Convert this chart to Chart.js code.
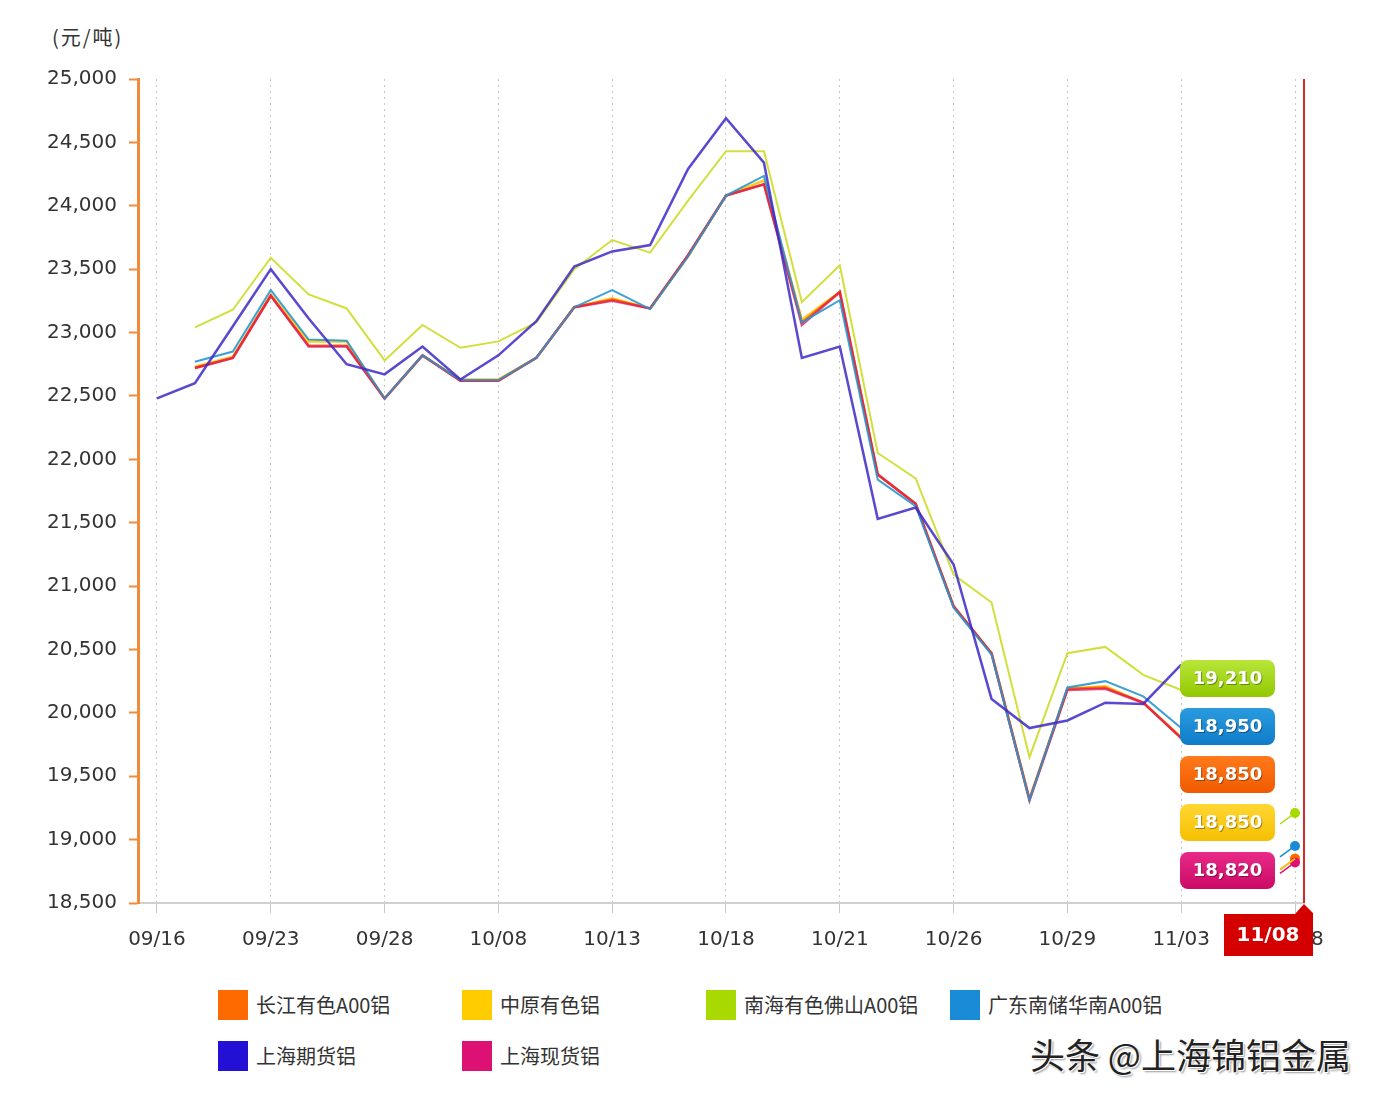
<!DOCTYPE html>
<html>
<head>
<meta charset="utf-8">
<script src="https://cdn.jsdelivr.net/npm/chart.js@4"></script>
<style>
  body { margin: 0; background: #fff; width: 1384px; height: 1102px; position: relative; overflow: hidden; font-family: "Noto Sans CJK SC", "DejaVu Sans", sans-serif; }
  #wrap { position: absolute; left: 0; top: 0; width: 1384px; height: 970px; }
  #unit { position: absolute; left: 52px; top: 22px; font-size: 20px; letter-spacing: 2px; color: #333; }
  .lg { position: absolute; font-size: 20px; color: #333; line-height: 30px; }
  .lg span { display: inline-block; width: 30px; height: 30px; vertical-align: top; margin-right: 8px; }
  #mark { position: absolute; left: 1030px; top: 1028px; font-size: 35px; color: #222; text-shadow: 1px 1px 0 #fff, -1px -1px 0 #fff, 2px 2px 2px #999; }
</style>
</head>
<body>
<div id="unit">(元/吨)</div>
<div id="wrap"><canvas id="grafico" width="1384" height="970"></canvas></div>
<div id="leyenda"></div>
<div id="mark">头条 @上海锦铝金属</div>
<script>
// Datos
const tickLabels = ["09/16", "09/23", "09/28", "10/08", "10/13", "10/18", "10/21", "10/26", "10/29", "11/03", "11/08"];
const tickEvery = 3;

const changjiang = [null, 22720, 22800, 23290, 22895, 22895, 22480, 22820, 22620, 22620, 22800, 23200, 23260, 23190, 23610, 24080, 24170, 23080, 23320, 21880, 21650, 20840, 20470, 19320, 20190, 20200, 20080, 19800, null, null, 18850];
const zhongyuan = [null, 22730, 22810, 23300, 22930, 22930, 22480, 22820, 22630, 22630, 22800, 23200, 23270, 23190, 23600, 24080, 24200, 23100, 23320, 21880, 21650, 20840, 20470, 19320, 20190, 20210, 20080, 19810, null, null, 18850];
const nanhai = [null, 23040, 23180, 23590, 23300, 23190, 22780, 23060, 22880, 22930, 23080, 23500, 23730, 23630, 24040, 24430, 24430, 23240, 23530, 22050, 21850, 21090, 20870, 19650, 20470, 20520, 20300, 20180, null, null, 19210];
const guangdong = [null, 22770, 22850, 23335, 22945, 22935, 22480, 22820, 22625, 22625, 22800, 23200, 23335, 23185, 23600, 24080, 24235, 23080, 23255, 21840, 21630, 20830, 20460, 19310, 20200, 20250, 20130, 19880, null, null, 18950];
const shQihuo = [22480, 22600, 23050, 23500, 23110, 22750, 22670, 22890, 22630, 22820, 23090, 23520, 23640, 23690, 24290, 24690, 24340, 22800, 22890, 21530, 21620, 21170, 20110, 19880, 19940, 20080, 20070, 20380, null, null, null];
const shXianhuo = [null, 22720, 22800, 23290, 22890, 22890, 22480, 22820, 22620, 22620, 22800, 23200, 23250, 23190, 23610, 24080, 24170, 23060, 23320, 21880, 21650, 20840, 20470, 19310, 20180, 20190, 20080, 19800, null, null, 18820];

const series = [
  { nombre: "上海期货铝", datos: shQihuo, color: "#2410d4", linea: "rgba(60,40,200,0.85)", ancho: 2.5 },
  { nombre: "南海有色佛山A00铝", datos: nanhai, color: "#a8d900", linea: "rgba(205,220,40,0.9)", ancho: 2 },
  { nombre: "广东南储华南A00铝", datos: guangdong, color: "#1a8bd6", linea: "rgba(40,150,210,0.9)", ancho: 2 },
  { nombre: "上海现货铝", datos: shXianhuo, color: "#dd1173", linea: "rgba(220,20,90,0.75)", ancho: 2.5 },
  { nombre: "长江有色A00铝", datos: changjiang, color: "#ff6a00", linea: "rgba(255,90,0,0.85)", ancho: 2.5 },
  { nombre: "中原有色铝", datos: zhongyuan, color: "#ffcc00", linea: "rgba(255,200,0,0.9)", ancho: 2.5 },
];
const ultimo = 30;

// Leyenda
const leyenda = [
  ["长江有色A00铝", "#ff6a00", 218, 990],
  ["中原有色铝", "#ffcc00", 462, 990],
  ["南海有色佛山A00铝", "#a8d900", 706, 990],
  ["广东南储华南A00铝", "#1a8bd6", 950, 990],
  ["上海期货铝", "#2410d4", 218, 1041],
  ["上海现货铝", "#dd1173", 462, 1041],
];
const cont = document.getElementById("leyenda");
leyenda.forEach(([txt, col, x, y]) => {
  const d = document.createElement("div");
  d.className = "lg";
  d.style.left = x + "px";
  d.style.top = y + "px";
  d.innerHTML = `<span style="background:${col}"></span>${txt}`;
  cont.appendChild(d);
});

// Etiquetas de valor a la derecha
const etiquetas = [
  { serie: nanhai, top: "#b8e63a", bot: "#92c800" },
  { serie: guangdong, top: "#2a9be0", bot: "#0f7cc8" },
  { serie: changjiang, top: "#ff7a1a", bot: "#f05a00" },
  { serie: zhongyuan, top: "#ffd633", bot: "#f5c000" },
  { serie: shXianhuo, top: "#e82a88", bot: "#cc0a66" },
];

const fmt = (v) => v.toLocaleString("en-US");

const extras = {
  id: "extras",
  afterDatasetsDraw(chart) {
    const { ctx, scales } = chart;
    const xs = scales.x, ys = scales.y;
    // conectores
    ctx.save();
    series.forEach((s) => {
      const v = s.datos[ultimo];
      if (v == null) return;
      const px = xs.getPixelForValue(ultimo), py = ys.getPixelForValue(v);
      ctx.strokeStyle = s.color;
      ctx.lineWidth = 1.5;
      ctx.beginPath();
      ctx.moveTo(px - 15, py + 11);
      ctx.lineTo(px, py);
      ctx.stroke();
    });
    // cajas
    etiquetas.forEach((e, k) => {
      const x = 1180, y = 660 + k * 48, w = 95, h = 37;
      const g = ctx.createLinearGradient(0, y, 0, y + h);
      g.addColorStop(0, e.top);
      g.addColorStop(1, e.bot);
      ctx.fillStyle = g;
      ctx.beginPath();
      ctx.roundRect(x, y, w, h, 8);
      ctx.fill();
      ctx.font = "bold 18px 'DejaVu Sans'";
      ctx.textAlign = "center";
      ctx.textBaseline = "middle";
      ctx.fillStyle = "rgba(0,0,0,0.35)";
      ctx.fillText(fmt(e.serie[ultimo]), x + w / 2 + 1, y + h / 2 + 2);
      ctx.fillStyle = "#fff";
      ctx.fillText(fmt(e.serie[ultimo]), x + w / 2, y + h / 2 + 1);
    });
    ctx.restore();
  },
  afterDraw(chart) {
    const { ctx, chartArea } = chart;
    ctx.save();
    // linea roja
    ctx.strokeStyle = "#d42a2a";
    ctx.lineWidth = 2;
    ctx.beginPath();
    ctx.moveTo(chartArea.right, chartArea.top);
    ctx.lineTo(chartArea.right, chartArea.bottom);
    ctx.stroke();
    // caja de fecha
    const r = chartArea.right, b = chartArea.bottom;
    ctx.fillStyle = "#d40000";
    ctx.beginPath();
    ctx.moveTo(r - 80, b + 11);
    ctx.lineTo(r - 9, b + 11);
    ctx.lineTo(r, b + 1);
    ctx.lineTo(r + 9, b + 10);
    ctx.lineTo(r + 9, b + 53);
    ctx.lineTo(r - 80, b + 53);
    ctx.closePath();
    ctx.fill();
    ctx.fillStyle = "#fff";
    ctx.font = "bold 20px 'DejaVu Sans'";
    ctx.textAlign = "center";
    ctx.textBaseline = "middle";
    ctx.fillText(tickLabels[tickLabels.length - 1], r - 36, b + 33);
    ctx.restore();
  },
};

Chart.defaults.font.family = "'DejaVu Sans', sans-serif";
Chart.defaults.color = "#333";

const grafico = new Chart(document.getElementById("grafico"), {
  type: "line",
  data: {
    datasets: series.map((s) => ({
      label: s.nombre,
      data: s.datos.map((v, i) => ({ x: i, y: v })),
      borderColor: s.linea,
      backgroundColor: s.color,
      borderWidth: s.ancho,
      tension: 0,
      spanGaps: false,
      pointRadius: (c) => (c.dataIndex === ultimo ? 5 : 0),
      pointBorderWidth: 0,
      pointBackgroundColor: s.color,
    })),
  },
  options: {
    responsive: false,
    animation: false,
    layout: { padding: { top: 79, right: 80, left: 0, bottom: 0 } },
    plugins: { legend: { display: false }, tooltip: { enabled: false } },
    scales: {
      x: {
        type: "linear",
        min: -0.5,
        max: 30.237,
        afterBuildTicks: (scale) => {
          scale.ticks = tickLabels.map((_, k) => ({ value: k * tickEvery }));
        },
        afterFit: (scale) => { scale.height = 67; },
        ticks: {
          callback: (v) => tickLabels[v / tickEvery],
          font: { size: 20 },
          padding: 15,
          maxRotation: 0,
          autoSkip: false,
        },
        grid: { color: "#c8c8c8", lineWidth: 1, tickLength: 10 },
        border: { color: "#d0d0d0", width: 2, dash: [2, 4] },
      },
      y: {
        min: 18500,
        max: 25000,
        afterFit: (scale) => { scale.width = 138; },
        ticks: { stepSize: 500, callback: (v) => fmt(v), font: { size: 20 }, padding: 12 },
        grid: { drawOnChartArea: false, tickColor: "#f08a3c", tickWidth: 2, tickLength: 9 },
        border: { color: "#f08a3c", width: 3 },
      },
    },
  },
  plugins: [extras],
});
</script>
</body>
</html>
